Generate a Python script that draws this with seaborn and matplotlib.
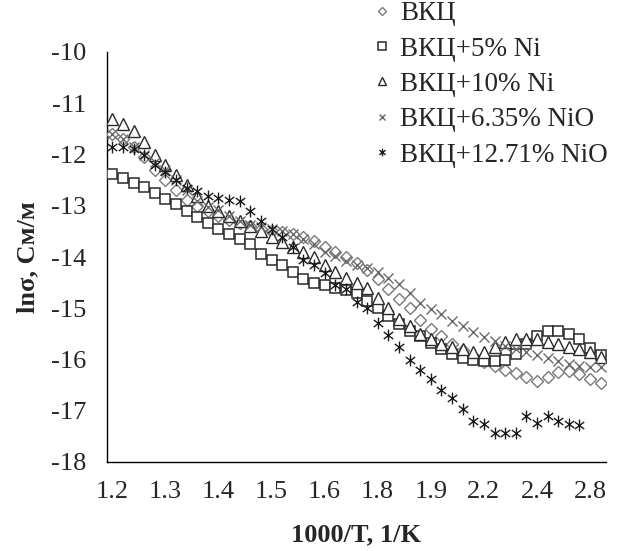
import numpy as np
import pandas as pd
import matplotlib
matplotlib.use("Agg")
import matplotlib.pyplot as plt
import seaborn as sns
from matplotlib.path import Path

nan = np.nan

# category tick labels (every 5th category of 47)
tick_labels = ["1.2", "1.3", "1.4", "1.5", "1.6", "1.8", "1.9", "2.2", "2.4", "2.8"]
n_cat = 47

names = ["ВКЦ", "ВКЦ+5% Ni", "ВКЦ+10% Ni", "ВКЦ+6.35% NiO", "ВКЦ+12.71% NiO"]

vkc = [-11.6, -11.7, -11.85, -12.05, -12.3, -12.5, -12.7, -12.88, -13.0, -13.1,
       -13.2, -13.27, -13.33, -13.4, -13.45, -13.5, -13.52, -13.55, -13.6, -13.68,
       -13.8, -13.9, -14.0, -14.12, -14.25, -14.42, -14.62, -14.82, -15.0, -15.22,
       -15.4, -15.55, -15.7, -15.82, -15.95, -16.05, -16.12, -16.2, -16.27, -16.35,
       -16.42, -16.35, -16.25, -16.22, -16.28, -16.38, -16.45]

ni5 = [-12.38, -12.46, -12.55, -12.63, -12.75, -12.87, -12.97, -13.1, -13.22, -13.33,
       -13.45, -13.55, -13.65, -13.75, -13.95, -14.05, -14.15, -14.3, -14.42, -14.5,
       -14.55, -14.6, -14.65, -14.7, -14.85, -15.0, -15.15, -15.3, -15.45, -15.55,
       -15.68, -15.8, -15.9, -15.97, -16.0, -16.02, -16.02, -16.0, -15.9, -15.7,
       -15.55, -15.45, -15.45, -15.5, -15.6, -15.78, -15.92]

ni10 = [-11.3, -11.4, -11.55, -11.75, -12.0, -12.2, -12.4, -12.6, -12.8, -13.0,
        -13.1, -13.2, -13.3, -13.4, -13.5, -13.6, -13.7, -13.8, -13.9, -14.0,
        -14.15, -14.3, -14.4, -14.5, -14.6, -14.8, -15.0, -15.2, -15.35, -15.5,
        -15.6, -15.7, -15.75, -15.8, -15.85, -15.85, -15.75, -15.65, -15.6, -15.6,
        -15.6, -15.65, -15.7, -15.75, -15.8, -15.85, -15.95]

nio635 = [-11.6, -11.7, -11.85, -12.0, -12.15, -12.3, -12.5, -12.7, -12.9, -13.02,
          -13.08, -13.2, -13.3, -13.38, -13.42, -13.45, -13.5, -13.55, -13.65, -13.75,
          -13.9, -13.98, -14.08, -14.15, -14.22, -14.3, -14.4, -14.52, -14.7, -14.9,
          -15.02, -15.12, -15.25, -15.35, -15.47, -15.57, -15.64, -15.73, -15.8, -15.85,
          -15.92, -15.97, -16.03, -16.08, -16.12, -16.15, -16.15]

nio1271 = [-11.85, -11.85, -11.9, -12.0, -12.2, -12.35, -12.5, -12.65, -12.72, -12.8,
           -12.85, -12.88, -12.9, -13.1, -13.3, -13.45, -13.6, -13.8, -14.05, -14.15,
           -14.32, -14.55, -14.62, -14.88, -15.0, -15.28, -15.52, -15.75, -16.0, -16.2,
           -16.38, -16.6, -16.75, -16.97, -17.2, -17.26, -17.43, -17.43, -17.43, -17.1,
           -17.24, -17.1, -17.2, -17.26, -17.28, nan, nan]

series = [vkc, ni5, ni10, nio635, nio1271]

# Excel-like asterisk: vertical bar + X
ast = Path([(0, -1), (0, 1), (-0.8, -0.6), (0.8, 0.6), (-0.8, 0.6), (0.8, -0.6)],
           [Path.MOVETO, Path.LINETO, Path.MOVETO, Path.LINETO, Path.MOVETO, Path.LINETO])

styles = [
    dict(marker="D", markersize=6.3, markerfacecolor="white", markeredgecolor="#7a7a7a", markeredgewidth=1.0),
    dict(marker="s", markersize=7.8, markerfacecolor="white", markeredgecolor="#2a2a2a", markeredgewidth=1.1),
    dict(marker="^", markersize=8.3, markerfacecolor="white", markeredgecolor="#2a2a2a", markeredgewidth=1.0),
    dict(marker="x", markersize=7.2, markerfacecolor="none", markeredgecolor="#6a6a6a", markeredgewidth=1.0),
    dict(marker=ast, markersize=8.5, markerfacecolor="none", markeredgecolor="#1a1a1a", markeredgewidth=1.0),
]

sns.set_style("white")
plt.rcParams["font.family"] = ["Liberation Serif", "DejaVu Serif"]

W, H = 617, 551
fig = plt.figure(figsize=(W / 100, H / 100), dpi=100)
left, right, top, bottom = 107, 606, 52, 462
ax = fig.add_axes([left / W, 1 - bottom / H, (right - left) / W, (bottom - top) / H])

idx = np.arange(n_cat)
for k, (name, vals, st) in enumerate(zip(names, series, styles)):
    df = pd.DataFrame({"cat": idx, "val": vals}).dropna()
    sns.lineplot(data=df, x="cat", y="val", ax=ax, linestyle="none", label=name,
                 zorder=3 + k, **st)

ax.set_xlim(-0.5, n_cat - 0.5)
ax.set_ylim(-18, -10)
ax.set_yticks(np.arange(-18, -9, 1))
ax.set_yticklabels([str(v) for v in range(-18, -9)])
ax.set_xticks(np.arange(0, 50, 5))
ax.set_xticklabels(tick_labels)
ax.set_xticks(np.arange(0, 50, 5) - 0.5, minor=True)
ax.tick_params(axis="x", which="major", length=0, pad=14, labelsize=19)
ax.tick_params(axis="x", which="minor", length=7, width=1, direction="out", color="black")
ax.tick_params(axis="y", which="major", length=7, width=1, direction="out", color="black",
               pad=8, labelsize=19)
for s in ["top", "right"]:
    ax.spines[s].set_visible(False)
for s in ["left", "bottom"]:
    ax.spines[s].set_color("black")
    ax.spines[s].set_linewidth(1.0)

ax.set_xlabel("1000/T, 1/K", fontsize=19, fontweight="bold", labelpad=14)
ax.set_ylabel("lnσ, См/м", fontsize=19, fontweight="bold", labelpad=8)

leg = ax.legend(loc="upper left", bbox_to_anchor=(373 / W, 1.0), bbox_transform=fig.transFigure,
                frameon=False, handlelength=0.6, handletextpad=0.35, labelspacing=0.38,
                markerscale=0.65, fontsize=19.5, borderaxespad=0.0, borderpad=0.05)

fig.savefig("out.png", dpi=100)
